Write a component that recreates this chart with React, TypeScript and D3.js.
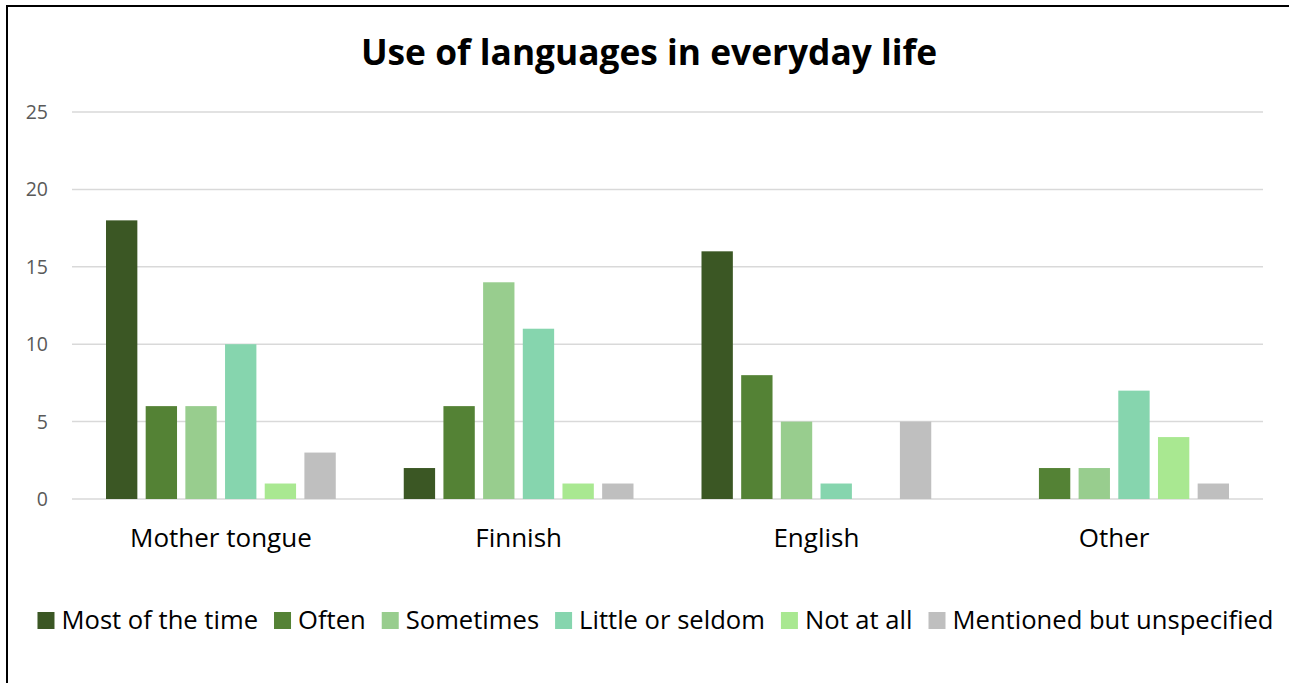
import React, { useEffect, useRef } from "react";
import * as d3 from "d3";

const categories = ["Mother tongue", "Finnish", "English", "Other"];
const seriesNames = ["Most of the time", "Often", "Sometimes", "Little or seldom", "Not at all", "Mentioned but unspecified"];
const seriesColors = ["#3B5724", "#548235", "#98CD8E", "#86D5AE", "#A9E891", "#BFBFBF"];
const mostOfTheTime = [18, 2, 16, 0];
const often = [6, 6, 8, 2];
const sometimes = [6, 14, 5, 2];
const littleOrSeldom = [10, 11, 1, 7];
const notAtAll = [1, 1, 0, 4];
const unspecified = [3, 1, 5, 1];
const yTicks = [0, 5, 10, 15, 20, 25];
const title = "Use of languages in everyday life";

const seriesValues = [mostOfTheTime, often, sometimes, littleOrSeldom, notAtAll, unspecified];

const W = 1289;
const H = 683;
const FONT = "'Open Sans', Lato, sans-serif";

export default function App() {
  const ref = useRef<SVGSVGElement | null>(null);

  useEffect(() => {
    const svg = d3.select(ref.current);
    svg.selectAll("*").remove();

    const left = 72, right = 1263, top = 112, bottom = 499;

    svg.append("rect").attr("x", 0).attr("y", 0).attr("width", W).attr("height", H).attr("fill", "#fff");
    svg.append("rect").attr("x", 7).attr("y", 6).attr("width", W + 20).attr("height", H + 20)
      .attr("fill", "none").attr("stroke", "#000").attr("stroke-width", 2);

    svg.append("text").attr("x", 649).attr("y", 64.5).attr("text-anchor", "middle")
      .attr("font-family", FONT).attr("font-weight", 700).attr("font-size", 35.3).attr("fill", "#000")
      .text(title);

    const y = d3.scaleLinear().domain([0, 25]).range([bottom, top]);
    const x0 = d3.scaleBand<string>().domain(categories).range([left, right]).paddingInner(0).paddingOuter(0);
    const band = x0.bandwidth();
    const x1 = d3.scaleBand<string>().domain(seriesNames).range([34, band - 34]).paddingInner(0.21).paddingOuter(0);

    const grid = svg.append("g");
    yTicks.forEach((t) => {
      grid.append("line").attr("x1", left).attr("x2", right).attr("y1", y(t)).attr("y2", y(t))
        .attr("stroke", "#D9D9D9").attr("stroke-width", 1.5);
      grid.append("text").attr("x", 48).attr("y", y(t)).attr("dy", "0.36em").attr("text-anchor", "end")
        .attr("font-family", FONT).attr("font-size", 19.5).attr("fill", "#595959").text(String(t));
    });

    const bars = svg.append("g");
    categories.forEach((c, ci) => {
      seriesNames.forEach((s, si) => {
        const v = seriesValues[si][ci];
        if (v <= 0) return;
        bars.append("rect")
          .attr("x", (x0(c) ?? 0) + (x1(s) ?? 0))
          .attr("y", y(v))
          .attr("width", x1.bandwidth())
          .attr("height", y(0) - y(v))
          .attr("fill", seriesColors[si]);
      });
      svg.append("text").attr("x", (x0(c) ?? 0) + band / 2).attr("y", 546.5).attr("text-anchor", "middle")
        .attr("font-family", FONT).attr("font-size", 26).attr("fill", "#000").text(c);
    });

    // legend
    const lg = svg.append("g");
    const items: { g: any; w: number }[] = [];
    seriesNames.forEach((s, i) => {
      const g = lg.append("g");
      g.append("rect").attr("x", 0).attr("y", 612).attr("width", 17).attr("height", 17).attr("fill", seriesColors[i]);
      const t = g.append("text").attr("x", 24).attr("y", 629).attr("font-family", FONT).attr("font-size", 25.6)
        .attr("fill", "#000").text(s);
      const tw = (t.node() as SVGTextElement).getComputedTextLength();
      items.push({ g, w: 24 + tw });
    });
    const gap = 16;
    const total = items.reduce((a, b) => a + b.w, 0) + gap * (items.length - 1);
    let cx = 655.5 - total / 2;
    items.forEach((it) => {
      it.g.attr("transform", `translate(${cx},0)`);
      cx += it.w + gap;
    });
  }, []);

  return <svg ref={ref} width={W} height={H} style={{ display: "block", position: "absolute", left: 0, top: 0 }} />;
}
